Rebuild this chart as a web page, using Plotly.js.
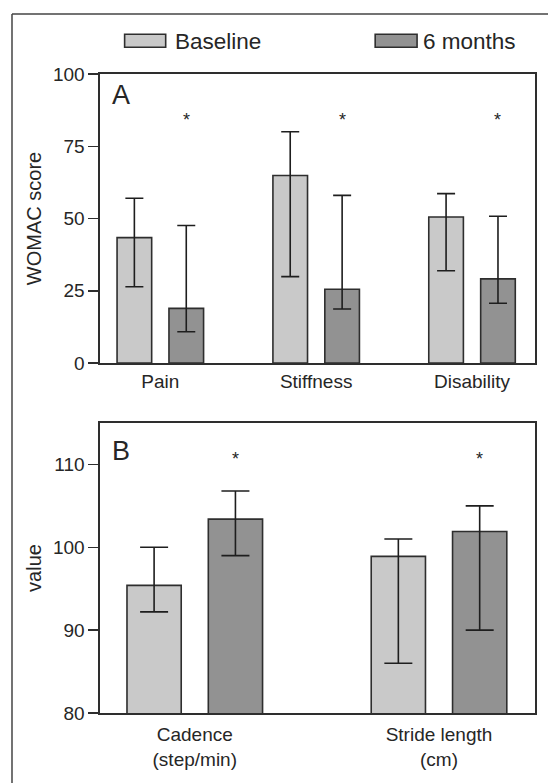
<!DOCTYPE html>
<html>
<head>
<meta charset="utf-8">
<script src="https://cdn.plot.ly/plotly-3.0.1.min.js"></script>
<style>
  html, body { margin: 0; padding: 0; background: #ffffff; }
  #chart { width: 548px; height: 783px; }
</style>
</head>
<body>
<div id="chart"></div>
<script>
// ---------- Data ----------
const categoriesA = ['Pain', 'Stiffness', 'Disability'];
const baselineA = [43.4, 64.9, 50.5];
const baselineAUpper = [57.0, 80.0, 58.6];
const baselineALower = [26.4, 29.9, 31.9];
const sixMonthsA = [18.9, 25.5, 29.1];
const sixMonthsAUpper = [47.6, 58.0, 50.8];
const sixMonthsALower = [10.8, 18.7, 20.7];
const starA = [85, 85, 85];

const categoriesB = ['Cadence<br>(step/min)', 'Stride length<br>(cm)'];
const baselineB = [95.4, 98.9];
const baselineBUpper = [100.0, 101.0];
const baselineBLower = [92.2, 86.0];
const sixMonthsB = [103.4, 101.9];
const sixMonthsBUpper = [106.8, 105.0];
const sixMonthsBLower = [99.0, 90.0];
const starB = [111, 111];

const seriesNames = ['Baseline', '6 months'];
const seriesColors = ['#c9c9c9', '#929292'];
const yTicksA = [0, 25, 50, 75, 100];
const yTicksB = [80, 90, 100, 110];

// ---------- Helpers ----------
const up = (hi, v) => hi.map((h, i) => +(h - v[i]).toFixed(2));
const down = (lo, v) => v.map((x, i) => +(x - lo[i]).toFixed(2));
const ink = '#262626';
const font = 'Liberation Sans, Arial, Helvetica, sans-serif';
const BARGAP = 0.334, BARGROUPGAP = 0.333;

function barTrace(name, color, cats, vals, hi, lo, xa, ya, capw) {
  return {
    type: 'bar', name: name, x: cats, y: vals, xaxis: xa, yaxis: ya,
    marker: { color: color, line: { color: '#2e2e2e', width: 1.6 } },
    error_y: { type: 'data', symmetric: false, array: up(hi, vals), arrayminus: down(lo, vals),
               color: '#1e1e1e', thickness: 1.6, width: capw },
    showlegend: false, hoverinfo: 'skip'
  };
}

const traces = [
  barTrace(seriesNames[0], seriesColors[0], categoriesA, baselineA, baselineAUpper, baselineALower, 'x', 'y', 9),
  barTrace(seriesNames[1], seriesColors[1], categoriesA, sixMonthsA, sixMonthsAUpper, sixMonthsALower, 'x', 'y', 9),
  barTrace(seriesNames[0], seriesColors[0], categoriesB, baselineB, baselineBUpper, baselineBLower, 'x2', 'y2', 14),
  barTrace(seriesNames[1], seriesColors[1], categoriesB, sixMonthsB, sixMonthsBUpper, sixMonthsBLower, 'x2', 'y2', 14)
];

// offset of the second bar in each group (category units)
const secondOffset = (1 - BARGAP) / 4;

const annotations = [];
starA.forEach((v, i) => annotations.push({ xref: 'x', yref: 'y', x: i + secondOffset, y: v, text: '*',
  showarrow: false, yshift: -3, font: { family: font, size: 18, color: ink } }));
starB.forEach((v, i) => annotations.push({ xref: 'x2', yref: 'y2', x: i + secondOffset, y: v, text: '*',
  showarrow: false, yshift: -3, font: { family: font, size: 18, color: ink } }));
annotations.push({ xref: 'x domain', yref: 'y domain', x: 0.022, y: 1, xanchor: 'left', yanchor: 'top',
  yshift: -4, text: 'A', showarrow: false, font: { family: font, size: 27, color: ink } });
annotations.push({ xref: 'x2 domain', yref: 'y2 domain', x: 0.024, y: 1, xanchor: 'left', yanchor: 'top',
  yshift: -11, text: 'B', showarrow: false, font: { family: font, size: 27, color: ink } });

// legend (custom, wide swatches)
const legendX = [[0.0566, 0.151], [0.6326, 0.7289]];
const legendTextX = [0.168, 0.739];
const shapes = [];
seriesNames.forEach((n, i) => {
  shapes.push({ type: 'rect', xref: 'paper', yref: 'paper', x0: legendX[i][0], x1: legendX[i][1],
    y0: 1.0418, y1: 1.0622, fillcolor: seriesColors[i], line: { color: '#2e2e2e', width: 1.6 } });
  annotations.push({ xref: 'paper', yref: 'paper', x: legendTextX[i], y: 1.0515, xanchor: 'left',
    yanchor: 'middle', text: n, showarrow: false, font: { family: font, size: 22.5, color: ink } });
});
// outer frame (top & left edges visible)
shapes.push({ type: 'line', xref: 'paper', yref: 'paper', x0: -0.2023, x1: 1.2, y0: 1.0939, y1: 1.0939,
  line: { color: '#444444', width: 1.5 } });
shapes.push({ type: 'line', xref: 'paper', yref: 'paper', x0: -0.2023, x1: -0.2023, y0: -0.2, y1: 1.0939,
  line: { color: '#444444', width: 1.5 } });

const xCommon = { showline: true, mirror: true, linecolor: '#2e2e2e', linewidth: 1.6, ticks: '',
  showgrid: false, zeroline: false, tickfont: { family: font, size: 19, color: ink }, fixedrange: true };
const yCommon = { showline: true, mirror: true, linecolor: '#2e2e2e', linewidth: 1.6, ticks: 'outside',
  ticklen: 10, tickwidth: 1.5, tickcolor: '#2e2e2e', showgrid: false, zeroline: false,
  tickfont: { family: font, size: 19, color: ink }, fixedrange: true };

const layout = {
  width: 548, height: 783,
  margin: { l: 100, r: 13, t: 74, b: 70 },
  paper_bgcolor: '#ffffff', plot_bgcolor: '#ffffff',
  barmode: 'group', bargap: BARGAP, bargroupgap: BARGROUPGAP,
  showlegend: false,
  font: { family: font, color: ink },
  xaxis: Object.assign({}, xCommon, { anchor: 'y', domain: [0, 1], range: [-0.387, 2.404], ticklabelstandoff: 1 }),
  yaxis: Object.assign({}, yCommon, { anchor: 'x', domain: [0.5477, 1], range: [0, 100],
    tickvals: yTicksA, title: { text: 'WOMAC score', standoff: 6, font: { family: font, size: 20, color: ink } } }),
  xaxis2: Object.assign({}, xCommon, { anchor: 'y2', domain: [0, 1], range: [-0.388, 1.393], ticklabelstandoff: 4 }),
  yaxis2: Object.assign({}, yCommon, { anchor: 'x2', domain: [0, 0.4538], range: [80, 115],
    tickvals: yTicksB, title: { text: 'value', standoff: 6, font: { family: font, size: 20, color: ink } } }),
  annotations: annotations,
  shapes: shapes
};

Plotly.newPlot('chart', traces, layout, { displayModeBar: false, staticPlot: true });
</script>
</body>
</html>
